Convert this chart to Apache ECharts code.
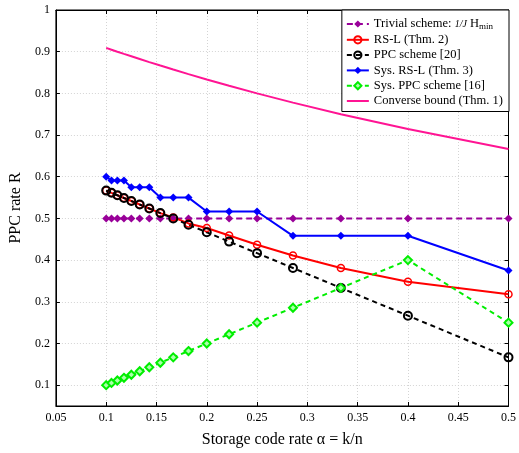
<!DOCTYPE html>
<html>
<head>
<meta charset="utf-8">
<script src="https://cdn.jsdelivr.net/npm/echarts@6/dist/echarts.min.js"></script>
<style>
  html, body { margin: 0; padding: 0; background: #fff; }
  #main { width: 519px; height: 453px; }
</style>
</head>
<body>
<div id="main"></div>
<script>
// storage code rate alpha = k/n
var alpha = [0.1, 0.10526, 0.11111, 0.11765, 0.125, 0.13333, 0.14286, 0.15385, 0.16667,
             0.18182, 0.2, 0.22222, 0.25, 0.28571, 0.33333, 0.4, 0.5];

var trivial   = [0.5, 0.5, 0.5, 0.5, 0.5, 0.5, 0.5, 0.5, 0.5, 0.5, 0.5, 0.5, 0.5, 0.5, 0.5, 0.5, 0.5];
var rsl       = [0.5667, 0.5614, 0.5556, 0.5490, 0.5417, 0.5333, 0.5238, 0.5128, 0.5025,
                 0.488, 0.477, 0.459, 0.437, 0.411, 0.381, 0.348, 0.318];
var ppc       = [0.5667, 0.5614, 0.5556, 0.5490, 0.5417, 0.5333, 0.5238, 0.5128, 0.5,
                 0.4848, 0.4667, 0.4444, 0.4167, 0.3810, 0.3333, 0.2667, 0.1667];
var sysRsl    = [0.6, 0.591, 0.591, 0.591, 0.575, 0.575, 0.575, 0.55, 0.55, 0.55,
                 0.5167, 0.5167, 0.5167, 0.4583, 0.4583, 0.4583, 0.375];
var sysPpc    = [0.1, 0.1053, 0.1111, 0.1176, 0.125, 0.1333, 0.1429, 0.1538, 0.1667,
                 0.1818, 0.2, 0.2222, 0.25, 0.2857, 0.3333, 0.4, 0.25];
var converse  = [0.9091, 0.9048, 0.9, 0.8947, 0.8889, 0.8824, 0.875, 0.8667, 0.8571,
                 0.8462, 0.8333, 0.8182, 0.8, 0.7778, 0.75, 0.7143, 0.6667];

var yTicks = [0.1, 0.2, 0.3, 0.4, 0.5, 0.6, 0.7, 0.8, 0.9, 1];

function pairs(ys) {
    return alpha.map(function (a, i) { return [a, ys[i]]; });
}

var serif = 'Liberation Serif';
var chart = echarts.init(document.getElementById('main'));

var tick = { show: true, inside: true, length: 4, lineStyle: { color: '#000' } };

var option = {
    animation: false,
    textStyle: { fontFamily: serif },
    grid: { left: 54, right: 7, top: 10, bottom: 46, show: true, borderColor: '#000', borderWidth: 1 },
    legend: {
        orient: 'vertical',
        right: 10,
        top: 10,
        itemWidth: 22,
        itemHeight: 9,
        itemGap: 2.3,
        padding: [7, 6, 4, 4],
        backgroundColor: '#fff',
        borderColor: '#000',
        borderWidth: 1,
        borderRadius: 0,
        textStyle: {
            fontFamily: serif, fontSize: 12.5, color: '#000', lineHeight: 13,
            rich: {
                it: { fontFamily: serif, fontSize: 10, fontStyle: 'italic', color: '#000', lineHeight: 13 },
                sub: { fontFamily: serif, fontSize: 9, color: '#000', lineHeight: 13, padding: [5, 0, 0, 0] }
            }
        },
        formatter: function (name) {
            if (name === 'trivial') return 'Trivial scheme: {it|1/J} H{sub|min}';
            return name;
        },
        data: ['trivial', 'RS-L (Thm. 2)', 'PPC scheme [20]', 'Sys. RS-L (Thm. 3)',
               'Sys. PPC scheme [16]',
               { name: 'Converse bound (Thm. 1)', itemStyle: { opacity: 0 } }]
    },
    xAxis: [{
        type: 'value', min: 0.05, max: 0.5, interval: 0.05,
        name: 'Storage code rate α = k/n', nameLocation: 'middle', nameGap: 26,
        nameTextStyle: { fontFamily: serif, fontSize: 16, color: '#000' },
        axisLine: { lineStyle: { color: '#000' } },
        axisTick: tick,
        axisLabel: { fontFamily: serif, fontSize: 12, color: '#000', margin: 6,
                     formatter: function (v) { return String(+v.toFixed(2)); } },
        splitLine: { show: true, lineStyle: { color: '#d4d4d4', type: [1, 2] } }
    }, {
        type: 'value', position: 'top', min: 0.05, max: 0.5, interval: 0.05,
        axisLine: { lineStyle: { color: '#000' } },
        axisTick: tick, axisLabel: { show: false }, splitLine: { show: false }
    }],
    yAxis: [{
        type: 'value', min: 0.05, max: 1,
        name: 'PPC rate R', nameLocation: 'middle', nameGap: 29,
        nameTextStyle: { fontFamily: serif, fontSize: 16, color: '#000' },
        axisLine: { show: true, lineStyle: { color: '#000' } },
        axisTick: { show: true, inside: true, length: 4, lineStyle: { color: '#000' }, customValues: yTicks },
        axisLabel: { fontFamily: serif, fontSize: 12, color: '#000', margin: 6, customValues: yTicks },
        splitLine: { show: true, lineStyle: { color: '#d4d4d4', type: [1, 2] } }
    }, {
        type: 'value', position: 'right', min: 0.05, max: 1,
        axisLine: { show: true, lineStyle: { color: '#000' } },
        axisTick: { show: true, inside: true, length: 4, lineStyle: { color: '#000' }, customValues: yTicks },
        axisLabel: { show: false, customValues: yTicks }, splitLine: { show: false }
    }],
    series: [{
        name: 'trivial', type: 'line', data: pairs(trivial),
        symbol: 'diamond', symbolSize: 8,
        itemStyle: { color: '#990099' },
        lineStyle: { color: '#990099', width: 2, type: [6, 4] }
    }, {
        name: 'RS-L (Thm. 2)', type: 'line', data: pairs(rsl),
        symbol: 'circle', symbolSize: 7,
        itemStyle: { color: 'rgba(255,255,255,0)', borderColor: '#ff0000', borderWidth: 1.5 },
        lineStyle: { color: '#ff0000', width: 2 }
    }, {
        name: 'PPC scheme [20]', type: 'line', data: pairs(ppc),
        symbol: 'circle', symbolSize: 8,
        itemStyle: { color: 'rgba(255,255,255,0)', borderColor: '#000', borderWidth: 2 },
        lineStyle: { color: '#000', width: 2, type: [5, 4] }
    }, {
        name: 'Sys. RS-L (Thm. 3)', type: 'line', data: pairs(sysRsl),
        symbol: 'diamond', symbolSize: 8,
        itemStyle: { color: '#0000ff' },
        lineStyle: { color: '#0000ff', width: 2 }
    }, {
        name: 'Sys. PPC scheme [16]', type: 'line', data: pairs(sysPpc),
        symbol: 'diamond', symbolSize: 8,
        itemStyle: { color: '#aaffaa', borderColor: '#00ee00', borderWidth: 2 },
        lineStyle: { color: '#00ee00', width: 2, type: [5, 4] }
    }, {
        name: 'Converse bound (Thm. 1)', type: 'line', data: pairs(converse),
        symbol: 'none',
        itemStyle: { color: '#ff1493' },
        lineStyle: { color: '#ff1493', width: 2 }
    }]
};

chart.setOption(option);
</script>
</body>
</html>
